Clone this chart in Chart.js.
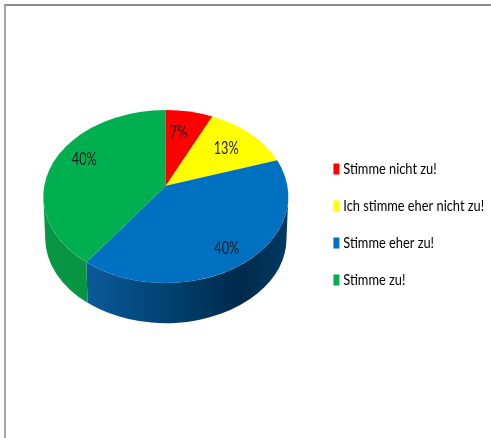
<!DOCTYPE html>
<html><head><meta charset="utf-8">
<style>
html,body{margin:0;padding:0;background:#fff;overflow:hidden}
#wrap{position:absolute;left:0;top:0;width:491px;height:438px}
#frame{position:absolute;left:4px;top:4px;right:0;bottom:0;border-left:2px solid #a6a6a6;border-top:2px solid #8c8c8c}
canvas{position:absolute;left:0;top:0;filter:blur(0.4px)}
</style>
<script src="https://cdn.jsdelivr.net/npm/chart.js@4"></script>
</head><body>
<div id="wrap"><div id="frame"></div><canvas id="c" width="491" height="438"></canvas></div>
<script>
const categories = ["Stimme nicht zu!", "Ich stimme eher nicht zu!", "Stimme eher zu!", "Stimme zu!"];
const percentages = [7, 13, 40, 40];
const sliceColors = ["#ff0000", "#ffff00", "#0070c0", "#00b050"];

const FONT = 'Lato,"Liberation Sans",sans-serif';

const pie3d = {
  id: 'pie3d',
  afterLayout(chart, args, o) {
    const l = chart.legend, w = l.right - l.left;
    l.left = o.legendLeft; l.right = o.legendLeft + w;
    l.top += o.legendDy; l.bottom += o.legendDy;
    if (!l._condensed) {
      const draw = l._draw;
      l._draw = function () {
        const x0 = this.left + this.options.labels.padding, c = this.ctx;
        c.save();
        c.translate(x0, 0); c.scale(o.legendCondense, 1); c.translate(-x0, 0);
        draw.call(this);
        c.restore();
      };
      l._condensed = true;
    }
  },
  beforeDatasetsDraw(chart, args, o) {
    const ctx = chart.ctx, arcs = chart.getDatasetMeta(0).data;
    const cx = arcs[0].x, cy = arcs[0].y, rx = arcs[0].outerRadius, ry = rx * o.squash;
    const a = o.tilt, s = Math.sqrt(1 - a * a);
    const proj = (ang, r) => {
      const x = r * Math.cos(ang), y = r * Math.sin(ang), d = 1 + a * y;
      return [x * s / d, (y + a) / d];
    };
    const rimAngle = ang => { const p = proj(ang, 1); return Math.atan2(p[1], p[0]); };
    const span = el => {
      const a0 = rimAngle(el.startAngle); let a1 = rimAngle(el.endAngle);
      while (a1 <= a0) a1 += Math.PI * 2;
      return [a0, a1];
    };
    ctx.save();
    // side wall
    arcs.forEach((el, i) => {
      const [a0, a1] = span(el);
      for (const base of [-2 * Math.PI, 0, 2 * Math.PI]) {
        const b0 = Math.max(a0, base), b1 = Math.min(a1, base + Math.PI);
        if (b1 <= b0) continue;
        const g = ctx.createLinearGradient(cx - rx, 0, cx + rx, 0);
        (o.sideStops[i] || []).forEach(st => g.addColorStop(st[0], st[1]));
        ctx.fillStyle = g;
        ctx.beginPath();
        ctx.ellipse(cx, cy, rx, ry, 0, b0, b1);
        ctx.ellipse(cx, cy + o.depth, rx * o.bottomScale, ry * o.bottomScale, 0, b1, b0, true);
        ctx.closePath();
        ctx.fill();
      }
    });
    // top surface
    const apex = proj(0, 0);
    arcs.forEach(el => {
      const [a0, a1] = span(el);
      ctx.fillStyle = el.options.backgroundColor;
      ctx.beginPath();
      ctx.moveTo(cx + apex[0] * rx, cy + apex[1] * ry);
      ctx.ellipse(cx, cy, rx, ry, 0, a0, a1);
      ctx.closePath();
      ctx.fill();
    });
    // value labels
    ctx.fillStyle = o.labelColor;
    ctx.font = o.labelFont;
    ctx.textAlign = 'center';
    ctx.textBaseline = 'middle';
    arcs.forEach((el, i) => {
      const mid = (el.startAngle + el.endAngle) / 2 + o.labelTurn[i];
      const p = proj(mid, o.labelRadius[i]);
      ctx.save();
      ctx.translate(cx + p[0] * rx, cy + p[1] * ry);
      ctx.scale(o.labelCondense, 1);
      ctx.fillText(percentages[i] + '%', 0, 0);
      ctx.restore();
    });
    ctx.restore();
    return false;
  }
};

new Chart(document.getElementById('c'), {
  type: 'pie',
  data: { labels: categories, datasets: [{ data: percentages, backgroundColor: sliceColors, borderWidth: 0, radius: 122.5 }] },
  plugins: [pie3d],
  options: {
    responsive: false,
    animation: false,
    events: [],
    layout: { padding: { left: 46, right: 0, top: 0, bottom: 45 } },
    plugins: {
      tooltip: { enabled: false },
      title: { display: false },
      legend: {
        display: true,
        position: 'right',
        labels: {
          font: { family: FONT, size: 15 },
          color: '#1a1a1a',
          boxWidth: 1,
          boxHeight: 5,
          padding: 22,
          generateLabels(chart) {
            return chart.data.labels.map((t, i) => ({
              text: t, index: i,
              fillStyle: sliceColors[i], strokeStyle: sliceColors[i], lineWidth: 6, hidden: false
            }));
          }
        }
      },
      pie3d: {
        squash: 0.706,
        tilt: -0.125,
        depth: 41.5,
        bottomScale: 0.985,
        legendCondense: 0.855,
        labelCondense: 0.75,
        labelFont: '17px ' + FONT,
        labelColor: '#1c1c1c',
        labelRadius: [0.69, 0.70, 0.82, 0.77],
        labelTurn: [-0.054, 0, 0.035, 0.122],
        legendLeft: 314,
        legendDy: 28,
        sideStops: [
          [[0, '#990000'], [1, '#660000']],
          [[0, '#999900'], [1, '#666600']],
          [[0, '#0a62a8'], [0.18, '#0a5a9a'], [0.5, '#004272'], [0.8, '#002a4c'], [1, '#003a62']],
          [[0, '#089644'], [1, '#07903f']]
        ]
      }
    }
  }
});
</script>
</body></html>
